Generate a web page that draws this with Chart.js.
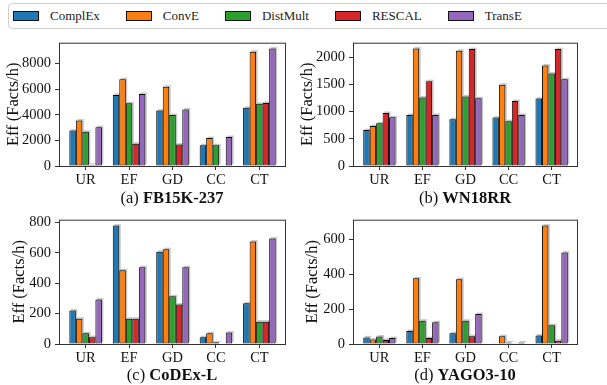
<!DOCTYPE html>
<html>
<head>
<meta charset="utf-8">
<script src="https://cdn.jsdelivr.net/npm/chart.js@4.4.0/dist/chart.umd.min.js"></script>
<style>
  body { margin: 0; background: #fff; width: 607px; height: 385px; overflow: hidden; position: relative;
         font-family: "Liberation Serif", serif; color: #111; }
  canvas { position: absolute; }
  .caption { position: absolute; width: 240px; text-align: center; font-size: 16.5px; line-height: 20px; white-space: nowrap;
             font-family: "Liberation Serif", serif; }
  #legend { position: absolute; left: 8px; top: 3px; width: 640px; height: 26px; box-sizing: border-box;
            border: 1px solid #d0d0d0; border-radius: 4px; display: flex; align-items: center;
            padding-left: 4px; padding-bottom: 1px; white-space: nowrap;
            font-family: "Liberation Serif", serif; font-size: 13px; font-weight: normal; color: #222; }
  .swatch { width: 26px; height: 10px; box-sizing: border-box; border: 1px solid #111; margin-right: 11px; flex: none; }
  .item-label { margin-right: 26px; font-family: "Liberation Serif", serif; }
</style>
</head>
<body>
<div id="legend"></div>
<canvas id="chart-a" width="300" height="160" style="left:0px;top:30px"></canvas>
<canvas id="chart-b" width="300" height="160" style="left:297px;top:30px"></canvas>
<canvas id="chart-c" width="300" height="160" style="left:0px;top:207px"></canvas>
<canvas id="chart-d" width="300" height="160" style="left:297px;top:207px"></canvas>
<div class="caption" style="left:52px;top:188px">(a) <b>FB15K-237</b></div>
<div class="caption" style="left:345px;top:188px">(b) <b>WN18RR</b></div>
<div class="caption" style="left:52px;top:365px">(c) <b>CoDEx-L</b></div>
<div class="caption" style="left:345px;top:365px">(d) <b>YAGO3-10</b></div>

<script>
// Categorias e modelos
const categories = ['UR', 'EF', 'GD', 'CC', 'CT'];
const models = ['ComplEx', 'ConvE', 'DistMult', 'RESCAL', 'TransE'];
const modelColors = ['#1f77b4', '#ff7f0e', '#2ca02c', '#d62728', '#9467bd'];

// Valores: uma linha por modelo, uma coluna por categoria
const fb15kValues = [
    [2770, 5540, 4330, 1620, 4540],
    [3540, 6770, 6180, 2180, 8920],
    [2670, 4900, 3970, 1620, 4850],
    [100, 1740, 1670, 50, 4920],
    [3030, 5620, 4410, 2260, 9160]
];
const wn18rrValues = [
    [660, 940, 860, 890, 1240],
    [735, 2160, 2120, 1495, 1850],
    [785, 1260, 1280, 825, 1700],
    [975, 1560, 2150, 1195, 2150],
    [895, 940, 1245, 940, 1595]
];
const codexValues = [
    [220, 778, 606, 45, 267],
    [166, 485, 623, 71, 673],
    [71, 166, 313, 11, 147],
    [45, 166, 259, 4, 147],
    [293, 505, 505, 75, 694]
];
const yagoValues = [
    [38, 75, 62, 4, 49],
    [26, 377, 372, 45, 680],
    [43, 134, 134, 9, 108],
    [23, 34, 45, 4, 19],
    [34, 125, 172, 9, 525]
];

// Marcas do eixo y
const fb15kTicks = [0, 2000, 4000, 6000, 8000];
const wn18rrTicks = [0, 500, 1000, 1500, 2000];
const codexTicks = [0, 200, 400, 600, 800];
const yagoTicks = [0, 200, 400, 600];

Chart.defaults.font.family = '"Liberation Serif", serif';
Chart.defaults.color = '#111';

// Sombra cinza atrás das barras
const shadowPlugin = {
    id: 'barShadow',
    beforeDatasetsDraw(chart) {
        const ctx = chart.ctx;
        ctx.save();
        ctx.fillStyle = 'rgba(0,0,0,0.22)';
        chart.getSortedVisibleDatasetMetas().forEach(meta => {
            meta.data.forEach(bar => {
                const p = bar.getProps(['x', 'y', 'base', 'width'], true);
                const top = Math.min(p.y, p.base);
                ctx.fillRect(p.x - p.width / 2 + 1.5, top - 1.5, p.width, Math.abs(p.base - p.y));
            });
        });
        ctx.restore();
    }
};

// Moldura completa em volta da área do gráfico
const framePlugin = {
    id: 'frame',
    afterDatasetsDraw(chart) {
        const { ctx, chartArea: a } = chart;
        ctx.save();
        ctx.strokeStyle = '#333';
        ctx.lineWidth = 1;
        ctx.strokeRect(a.left + 0.5, a.top + 0.5, a.right - a.left - 1, a.bottom - a.top);
        ctx.restore();
    }
};

function makeChart(id, values, yTicks, box) {
    const yMax = Math.max(...values.flat()) * 1.05;
    return new Chart(document.getElementById(id), {
        type: 'bar',
        data: {
            datasets: models.map((name, i) => ({
                label: name,
                data: values[i].map((v, j) => ({ x: j, y: v })),
                backgroundColor: modelColors[i],
                borderColor: '#000',
                borderWidth: 1,
                borderSkipped: false,
                categoryPercentage: 0.75,
                barPercentage: 1
            }))
        },
        options: {
            responsive: false,
            animation: false,
            layout: { padding: { top: box.padTop, right: box.padRight, left: 0, bottom: 0 } },
            plugins: { legend: { display: false }, tooltip: { enabled: false } },
            scales: {
                x: {
                    type: 'linear',
                    offset: false,
                    min: -0.6125,
                    max: categories.length - 1 + 0.6125,
                    afterBuildTicks: s => { s.ticks = categories.map((c, i) => ({ value: i })); },
                    afterFit: s => { s.height = box.xHeight; },
                    ticks: { callback: v => categories[v], font: { size: 14.5 }, padding: 1, maxRotation: 0, autoSkip: false },
                    grid: { offset: false, drawOnChartArea: false, tickLength: 4, color: '#333' },
                    border: { display: false }
                },
                y: {
                    min: 0,
                    max: yMax,
                    afterBuildTicks: s => { s.ticks = yTicks.map(v => ({ value: v })); },
                    afterFit: s => { s.width = box.yWidth; },
                    ticks: { callback: v => String(v), font: { size: 14.5 }, padding: 4 },
                    grid: { drawOnChartArea: false, tickLength: 4, color: '#333' },
                    border: { display: false },
                    title: { display: true, text: 'Eff (Facts/h)', font: { size: 16.5 }, padding: { top: box.titlePad, bottom: 0 } }
                }
            }
        },
        plugins: [shadowPlugin, framePlugin]
    });
}

makeChart('chart-a', fb15kValues, fb15kTicks, { padTop: 11, padRight: 14, xHeight: 24, yWidth: 59, titlePad: 4 });
makeChart('chart-b', wn18rrValues, wn18rrTicks, { padTop: 11, padRight: 19, xHeight: 24, yWidth: 56, titlePad: 1 });
makeChart('chart-c', codexValues, codexTicks, { padTop: 11, padRight: 14, xHeight: 23, yWidth: 59, titlePad: 10 });
makeChart('chart-d', yagoValues, yagoTicks, { padTop: 11, padRight: 19, xHeight: 23, yWidth: 56, titlePad: 6 });

// Legenda compartilhada
const legend = document.getElementById('legend');
models.forEach((name, i) => {
    const sw = document.createElement('span');
    sw.className = 'swatch';
    sw.style.background = modelColors[i];
    const lb = document.createElement('span');
    lb.className = 'item-label';
    lb.textContent = name;
    legend.appendChild(sw);
    legend.appendChild(lb);
});
</script>
</body>
</html>
